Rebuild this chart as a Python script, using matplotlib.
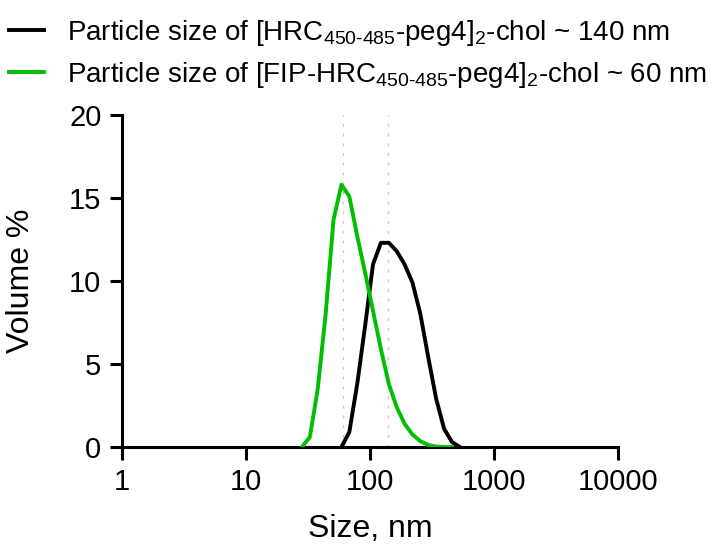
import matplotlib
matplotlib.use("Agg")
import matplotlib.pyplot as plt

plt.rcParams['font.family'] = ['Liberation Sans', 'DejaVu Sans']
plt.rcParams['mathtext.fontset'] = 'custom'
plt.rcParams['mathtext.rm'] = 'Liberation Sans'
plt.rcParams['mathtext.it'] = 'Liberation Sans'

# DLS volume distribution
size_hrc = [58.77, 68.06, 78.82, 91.28, 105.7, 122.4, 141.8, 164.2, 190.1,
            220.2, 255.0, 295.3, 342.0, 396.1, 458.7, 531.2]
vol_hrc = [0, 0.9, 3.8, 7.3, 11.0, 12.3, 12.3, 11.8, 11.0,
           9.9, 8.0, 5.4, 2.9, 1.1, 0.3, 0]

size_fip = [28.21, 32.67, 37.84, 43.82, 50.75, 58.77, 68.06, 78.82, 91.28,
            105.7, 122.4, 141.8, 164.2, 190.1, 220.2, 255.0, 295.3, 342.0,
            396.1, 458.7]
vol_fip = [0, 0.6, 3.5, 8.0, 13.7, 15.8, 15.1, 12.7, 10.5,
           8.2, 5.9, 3.8, 2.4, 1.4, 0.75, 0.35, 0.12, 0.03,
           0, 0]

peaks = [60, 140]
xticks = [1, 10, 100, 1000, 10000]
yticks = [0, 5, 10, 15, 20]

lab_hrc = 'Particle size of [HRC$_{\\mathregular{450\u2010485}}$-peg4]$_{\\mathregular{2}}$-chol ~ 140 nm'
lab_fip = 'Particle size of [FIP-HRC$_{\\mathregular{450\u2010485}}$-peg4]$_{\\mathregular{2}}$-chol ~ 60 nm'

fig = plt.figure(figsize=(7.16, 5.46), dpi=100)
ax = fig.add_axes([0.1708, 0.1813, 0.692, 0.6081])

for p in peaks:
    ax.axvline(p, color='#c8c8c8', lw=1.0, linestyle=(0, (2, 5)), zorder=1)

ax.plot(size_hrc, vol_hrc, color='black', lw=2.8, label=lab_hrc, zorder=3)
ax.plot(size_fip, vol_fip, color='#00bf00', lw=2.8, label=lab_fip, zorder=3)

ax.set_xscale('log')
ax.set_xlim(1, 10000)
ax.set_ylim(0, 20)
ax.set_xticks(xticks)
ax.set_xticklabels([str(t) for t in xticks])
ax.xaxis.set_minor_locator(matplotlib.ticker.NullLocator())
ax.set_yticks(yticks)

ax.spines['top'].set_visible(False)
ax.spines['right'].set_visible(False)
for s in ['left', 'bottom']:
    ax.spines[s].set_linewidth(2.2)
ax.tick_params(width=2.2, length=9, labelsize=21, pad=6)

ax.set_xlabel('Size, nm', fontsize=23, labelpad=13)
ax.set_ylabel('Volume %', fontsize=23, labelpad=24)

fig.legend(loc='upper left', bbox_to_anchor=(-0.022, 1.013), frameon=False,
           fontsize=20, handlelength=1.25, handletextpad=0.83, labelspacing=0.42)

fig.savefig('out.png', dpi=100)
